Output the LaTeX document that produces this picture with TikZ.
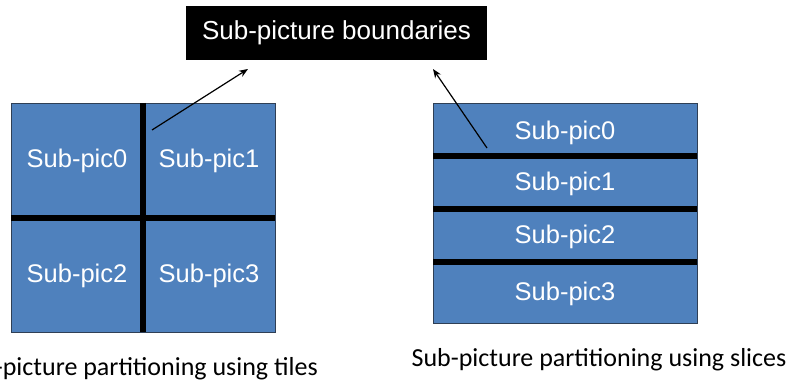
\documentclass[tikz,border=0pt]{standalone}
\usepackage{fontspec}
\setmainfont{Carlito}
\newfontfamily\labelfont{Liberation Sans}
\usetikzlibrary{arrows.meta}
\definecolor{picblue}{HTML}{4F81BD}
\definecolor{picedge}{HTML}{2F3F55}
\tikzset{
  subpic/.style={fill=picblue, draw=picedge, line width=0.8pt},
  boundary/.style={line width=6pt, black},
  piclabel/.style={font=\labelfont\fontsize{25.5}{30}\selectfont, text=white, inner sep=0pt},
  caption/.style={font=\fontsize{26}{31}\selectfont, inner sep=0pt},
  pointer/.style={line width=1.2pt, -{Stealth[length=9pt,width=7pt]}}
}
\begin{document}
\begin{tikzpicture}[x=1pt, y=-1pt]
\useasboundingbox (0,0) rectangle (792,385);

% title box
\node[fill=black, minimum width=301pt, minimum height=54pt, inner sep=0pt,
      font=\labelfont\fontsize{26}{31}\selectfont, text=white] (title) at (336.5,33) {Sub-picture boundaries};

% tile partitioning
\fill[subpic] (11,103) rectangle (275,332);
\draw[boundary] (143,103) -- (143,332);
\draw[boundary] (11,218) -- (275,218);
\node[piclabel] (t0) at (77,161) {Sub-pic0};
\node[piclabel] (t1) at (209,161) {Sub-pic1};
\node[piclabel] (t2) at (77,276) {Sub-pic2};
\node[piclabel] (t3) at (209,276) {Sub-pic3};
\node[caption, anchor=base east] (capt) at (318,375) {Sub-picture partitioning using tiles};

% slice partitioning
\fill[subpic] (433,103) rectangle (697,323);
\draw[boundary] (433,156) -- (697,156);
\draw[boundary] (433,209) -- (697,209);
\draw[boundary] (433,262) -- (697,262);
\node[piclabel] (s0) at (565,133) {Sub-pic0};
\node[piclabel] (s1) at (565,184) {Sub-pic1};
\node[piclabel] (s2) at (565,237) {Sub-pic2};
\node[piclabel] (s3) at (565,294) {Sub-pic3};
\node[caption, anchor=base] (caps) at (599,366) {Sub-picture partitioning using slices};

% pointers to the boundaries
\coordinate (tileb) at (152,130);
\coordinate (sliceb) at (487,148);
\coordinate (tipl) at (248,69);
\coordinate (tipr) at (433,69);
\draw[pointer] (tileb) -- (tipl);
\draw[pointer] (sliceb) -- (tipr);
\end{tikzpicture}
\end{document}
